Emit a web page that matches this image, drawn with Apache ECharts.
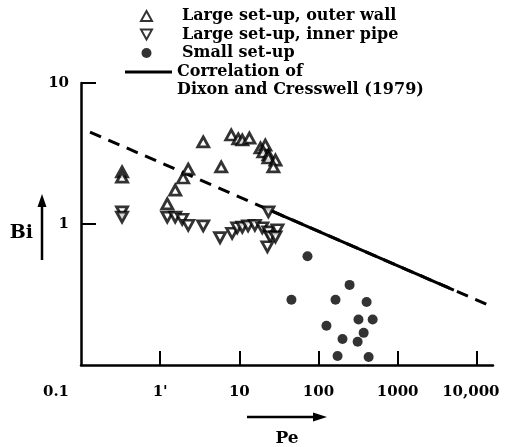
<!DOCTYPE html>
<html>
<head>
<meta charset="utf-8">
<script src="https://cdn.jsdelivr.net/npm/echarts@6/dist/echarts.min.js"></script>
<style>
  html, body { margin: 0; padding: 0; background: #fff; }
  #chart { width: 508px; height: 447px; }
</style>
</head>
<body>
<div id="chart"></div>
<script>
// Pe / Bi data
var outerWall = [
  [0.33, 2.34], [0.33, 2.15], [1.23, 1.39], [1.55, 1.74], [1.95, 2.12],
  [2.26, 2.45], [3.5, 3.82], [5.9, 2.54], [7.9, 4.28], [9.7, 4.01],
  [10.9, 3.94], [13.4, 4.07], [18.5, 3.46], [21.3, 3.63], [20.1, 3.24],
  [23.3, 3.09], [23.3, 2.94], [28.6, 2.84], [26.9, 2.54]
];
var innerPipe = [
  [0.33, 1.22], [0.33, 1.12], [1.23, 1.12], [1.55, 1.12], [1.9, 1.08],
  [2.26, 0.98], [3.5, 0.97], [5.7, 0.80], [8.1, 0.86], [9.4, 0.94],
  [10.9, 0.95], [12.9, 0.97], [15.7, 0.98], [19.5, 0.94], [23.3, 0.88],
  [24.6, 0.81], [30.3, 0.91], [28.6, 0.81], [22.6, 0.69], [23.3, 1.22]
];
var smallSetup = [
  [72.6, 0.59], [45.5, 0.29], [164, 0.29], [247, 0.37], [405, 0.28],
  [126, 0.19], [320, 0.21], [483, 0.21], [372, 0.169], [201, 0.153],
  [312, 0.146], [174, 0.116], [430, 0.114]
];
// Dixon and Cresswell correlation: full (dashed) range and valid (solid) range
var corrFull = [[0.13, 4.49], [13770, 0.267]];
var corrSolid = [[20.1, 1.31], [5120, 0.34]];

var xTicks = [1, 10, 100, 1000, 10000];
var xLabelValues = [0.1, 1, 10, 100, 1000, 10000];
var xLabelText = { '0.1': '0.1', '1': "1'", '10': '10', '100': '100', '1000': '1000', '10000': '10,000' };
var yTicks = [1, 10];

var font = 'DejaVu Serif';
var corrName = 'Correlation of\nDixon and Cresswell (1979)';

var chart = echarts.init(document.getElementById('chart'));

var option = {
  animation: false,
  backgroundColor: '#fff',
  grid: { left: 81, right: 15, top: 83, bottom: 82, outerBoundsMode: 'none' },
  legend: [
    {
      data: [
        { name: 'Large set-up, outer wall' },
        { name: 'Large set-up, inner pipe', icon: 'path://M0,0L10,0L5,9Z' },
        { name: 'Small set-up' }
      ],
      orient: 'vertical',
      left: 140,
      top: 8,
      padding: 0,
      itemWidth: 11,
      itemHeight: 10,
      itemGap: 2.5,
      selectedMode: false,
      textStyle: {
        fontFamily: font, fontWeight: 'bold', fontSize: 16, color: '#000',
        padding: [0, 0, 0, 25]
      }
    },
    {
      data: [{ name: corrName, icon: 'rect' }],
      orient: 'vertical',
      left: 125,
      top: 45,
      padding: 0,
      itemWidth: 47,
      itemHeight: 3,
      selectedMode: false,
      formatter: function (name) { return '\n' + name; },
      textStyle: {
        fontFamily: font, fontWeight: 'bold', fontSize: 16, color: '#000',
        lineHeight: 18
      }
    }
  ],
  xAxis: {
    type: 'log',
    logBase: 10,
    min: 0.1,
    max: 16000,
    name: 'Pe',
    nameLocation: 'middle',
    nameGap: 65,
    nameTextStyle: { fontFamily: font, fontWeight: 'bold', fontSize: 17, color: '#000' },
    axisLine: { lineStyle: { color: '#000', width: 2.5 } },
    axisTick: {
      inside: true, length: 14, customValues: xTicks,
      lineStyle: { color: '#000', width: 2 }
    },
    axisLabel: {
      customValues: xLabelValues,
      margin: 20,
      fontFamily: font, fontWeight: 'bold', fontSize: 15, color: '#000',
      formatter: function (v) {
        var t = xLabelText[String(+v.toPrecision(6))];
        if (t === undefined) return '';
        if (t === '0.1') return '{l|' + t + '}';
        if (t === '10,000') return '{r|' + t + '}';
        return t;
      },
      rich: {
        l: { fontFamily: font, fontWeight: 'bold', fontSize: 15, color: '#000', padding: [0, 50, 0, 0] },
        r: { fontFamily: font, fontWeight: 'bold', fontSize: 15, color: '#000', padding: [0, 12, 0, 0] }
      }
    },
    splitLine: { show: false },
    minorTick: { show: false }
  },
  yAxis: {
    type: 'log',
    logBase: 10,
    min: 0.1,
    max: 10,
    name: 'Bi',
    nameLocation: 'middle',
    nameRotate: 0,
    nameGap: 48,
    nameTextStyle: { fontFamily: font, fontWeight: 'bold', fontSize: 19, color: '#000', verticalAlign: 'top' },
    axisLine: { lineStyle: { color: '#000', width: 2.5 } },
    axisTick: {
      inside: true, length: 15, customValues: yTicks,
      lineStyle: { color: '#000', width: 2 }
    },
    axisLabel: {
      customValues: yTicks,
      margin: 12,
      fontFamily: font, fontWeight: 'bold', fontSize: 15, color: '#000'
    },
    splitLine: { show: false }
  },
  graphic: [
    { // arrow beside Bi
      type: 'group',
      children: [
        { type: 'line', shape: { x1: 42, y1: 260, x2: 42, y2: 205 }, style: { stroke: '#000', lineWidth: 2.5 } },
        { type: 'polygon', shape: { points: [[42, 194], [37.5, 207], [46.5, 207]] }, style: { fill: '#000' } }
      ]
    },
    { // arrow above Pe
      type: 'group',
      children: [
        { type: 'line', shape: { x1: 247, y1: 417, x2: 315, y2: 417 }, style: { stroke: '#000', lineWidth: 2.5 } },
        { type: 'polygon', shape: { points: [[327, 417], [313, 412.5], [313, 421.5]] }, style: { fill: '#000' } }
      ]
    }
  ],
  series: [
    {
      name: 'Dixon dashed',
      type: 'line',
      data: corrFull,
      symbol: 'none',
      lineStyle: { color: '#000', width: 3, type: [12, 8] },
      z: 1
    },
    {
      name: corrName,
      type: 'line',
      data: corrSolid,
      symbol: 'none',
      itemStyle: { color: '#000' },
      lineStyle: { color: '#000', width: 3 },
      z: 2
    },
    {
      name: 'Large set-up, outer wall',
      type: 'scatter',
      data: outerWall,
      symbol: 'triangle',
      symbolSize: [11, 10],
      itemStyle: { color: '#fff', borderColor: '#000', borderWidth: 2.8 },
      z: 3
    },
    {
      name: 'Large set-up, inner pipe',
      type: 'scatter',
      data: innerPipe,
      symbol: 'triangle',
      symbolRotate: 180,
      symbolSize: [11, 10],
      itemStyle: { color: '#fff', borderColor: '#000', borderWidth: 2.8 },
      z: 3
    },
    {
      name: 'Small set-up',
      type: 'scatter',
      data: smallSetup,
      symbol: 'circle',
      symbolSize: 10,
      itemStyle: { color: '#000' },
      z: 3
    }
  ]
};

chart.setOption(option);
</script>
</body>
</html>
